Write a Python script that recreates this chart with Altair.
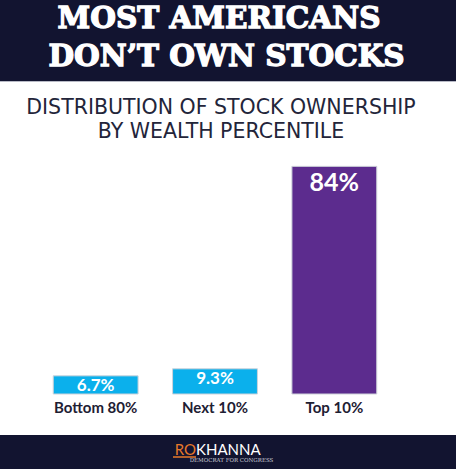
import altair as alt
import pandas as pd

# ---- data ----
categories = ["Bottom 80%", "Next 10%", "Top 10%"]
values = [6.7, 9.3, 84.0]
labels = ["6.7%", "9.3%", "84%"]

title_lines = ["MOST AMERICANS", "DON\u2019T OWN STOCKS"]
subtitle_lines = ["DISTRIBUTION OF STOCK OWNERSHIP", "BY WEALTH PERCENTILE"]

NAVY = "#121430"
BLUE = "#0bb0ec"
PURPLE = "#5c2c8e"
ORANGE = "#e8782a"
DARK = "#23253a"

df = pd.DataFrame({"category": categories, "value": values, "label": labels})

PAD_L, PAD_T, PAD_R, PAD_B = 36, 123, 62, 75
W, H = 456 - PAD_L - PAD_R, 469 - PAD_T - PAD_B

one = pd.DataFrame({"k": [0]})

x_enc = alt.X("category:N", sort=categories, axis=None,
              scale=alt.Scale(paddingInner=0.289, paddingOuter=0.1445))
y_enc = alt.Y("value:Q", axis=None, scale=alt.Scale(domain=[0, 100]))

# banners
top_band = alt.Chart(one).mark_rect(color=NAVY).encode(
    x=alt.value(-PAD_L), x2=alt.value(456 - PAD_L),
    y=alt.value(-PAD_T), y2=alt.value(81 - PAD_T))
top_line = alt.Chart(one).mark_rule(color="#b8bac6", strokeWidth=1).encode(
    x=alt.value(-PAD_L), x2=alt.value(456 - PAD_L), y=alt.value(81.5 - PAD_T))
bot_band = alt.Chart(one).mark_rect(color=NAVY).encode(
    x=alt.value(-PAD_L), x2=alt.value(456 - PAD_L),
    y=alt.value(435 - PAD_T), y2=alt.value(469 - PAD_T))

title_style = dict(font="DejaVu Serif", fontWeight="bold", fontSize=29.5,
                   color="white", stroke="white", strokeWidth=1.3,
                   align="center", baseline="middle")
title1 = alt.Chart(one).mark_text(text=title_lines[0], **title_style).encode(
    x=alt.value(219 - PAD_L), y=alt.value(19 - PAD_T))
title2 = alt.Chart(one).mark_text(text=title_lines[1], **title_style).encode(
    x=alt.value(226.5 - PAD_L), y=alt.value(57 - PAD_T))

sub_style = dict(font="DejaVu Sans", fontSize=20.5, color=DARK,
                 align="center", baseline="middle")
sub1 = alt.Chart(one).mark_text(text=subtitle_lines[0], **sub_style).encode(
    x=alt.value(221 - PAD_L), y=alt.value(108 - PAD_T))
sub2 = alt.Chart(one).mark_text(text=subtitle_lines[1], **sub_style).encode(
    x=alt.value(221 - PAD_L), y=alt.value(132 - PAD_T))

bars = alt.Chart(df).mark_bar(stroke="#cfd3da", strokeWidth=1).encode(
    x=x_enc, y=y_enc,
    color=alt.Color("category:N", legend=None,
                    scale=alt.Scale(domain=categories, range=[BLUE, BLUE, PURPLE])))

small_lab = alt.Chart(df).transform_filter(alt.datum.value < 50).mark_text(
    font="Lato", fontWeight="bold", fontSize=17, color="white",
    baseline="middle", dy=10).encode(x=x_enc, y=y_enc, text="label:N")
big_lab = alt.Chart(df).transform_filter(alt.datum.value >= 50).mark_text(
    font="Lato", fontWeight="bold", fontSize=25, color="white",
    baseline="middle", dy=17).encode(x=x_enc, y=y_enc, text="label:N")

cat_lab = alt.Chart(df).mark_text(
    font="Lato", fontWeight="bold", fontSize=15, color="#1e2033",
    baseline="middle").encode(x=x_enc, y=alt.value(407.5 - PAD_T), text="category:N")

ro = alt.Chart(one).mark_text(
    text="RO", font="Lato", fontSize=15, color=ORANGE, align="right",
    baseline="middle").encode(x=alt.value(196 - PAD_L), y=alt.value(449.5 - PAD_T))
khanna = alt.Chart(one).mark_text(
    text="KHANNA", font="Lato", fontSize=15, color="white", align="left",
    baseline="middle").encode(x=alt.value(196 - PAD_L), y=alt.value(449.5 - PAD_T))
ro_line = alt.Chart(one).mark_rule(color=ORANGE, strokeWidth=1.5).encode(
    x=alt.value(173 - PAD_L), x2=alt.value(196 - PAD_L), y=alt.value(457 - PAD_T))
dem = alt.Chart(one).mark_text(
    text="DEMOCRAT FOR CONGRESS", font="DejaVu Serif", fontSize=5.5,
    color="#c8c8d2", align="center", baseline="middle").encode(
    x=alt.value(231.5 - PAD_L), y=alt.value(460 - PAD_T))

chart = alt.layer(
    top_band, top_line, bot_band, title1, title2, sub1, sub2,
    bars, small_lab, big_lab, cat_lab, ro, khanna, ro_line, dem
).properties(
    width=W, height=H,
    padding={"left": PAD_L, "top": PAD_T, "right": PAD_R, "bottom": PAD_B},
    autosize=alt.AutoSizeParams(type="none"),
    background="white",
).configure_view(stroke=None)

chart.save("out.html", embed_options={"renderer": "svg", "actions": False})
